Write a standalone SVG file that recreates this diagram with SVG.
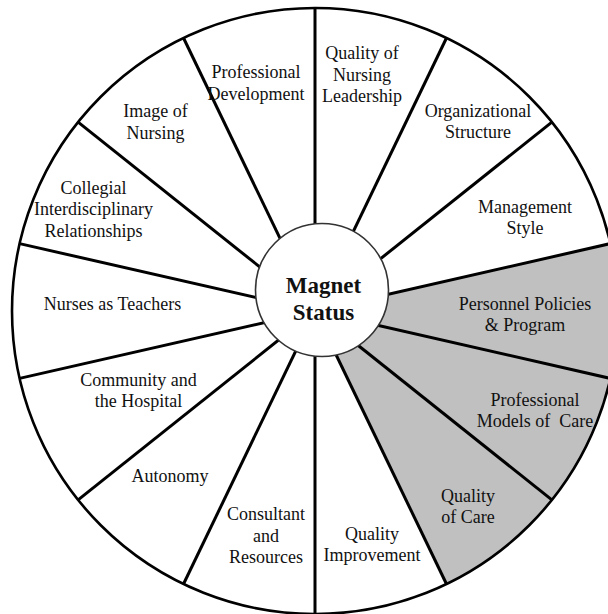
<svg xmlns="http://www.w3.org/2000/svg" width="608" height="614" viewBox="0 0 608 614">
<style>
.lbl{font-family:"Liberation Serif","Times New Roman",serif;font-size:18px;fill:#111;text-anchor:middle;white-space:pre}
.ctr{font-family:"Liberation Serif","Times New Roman",serif;font-size:23px;font-weight:bold;fill:#111;text-anchor:middle}
.spoke{stroke:#000;stroke-width:3;fill:none}
</style>
<rect width="608" height="614" fill="#fff"/>
<g id="wheel">
<circle cx="315" cy="311" r="303" fill="#fff"/>
<path d="M315,311 L610.4,243.6 A303,303 0 0 1 446.47,584 Z" fill="#c0c0c0"/>
</g>
<g id="connectors">
<line class="spoke" x1="315" y1="311" x2="315" y2="8"/>
<line class="spoke" x1="315" y1="311" x2="446.47" y2="38"/>
<line class="spoke" x1="315" y1="311" x2="551.9" y2="122.1"/>
<line class="spoke" x1="315" y1="311" x2="610.4" y2="243.6"/>
<line class="spoke" x1="315" y1="311" x2="610.4" y2="378.4"/>
<line class="spoke" x1="315" y1="311" x2="551.9" y2="499.9"/>
<line class="spoke" x1="315" y1="311" x2="446.47" y2="584"/>
<line class="spoke" x1="315" y1="311" x2="315" y2="614"/>
<line class="spoke" x1="315" y1="311" x2="183.53" y2="584"/>
<line class="spoke" x1="315" y1="311" x2="78.1" y2="499.9"/>
<line class="spoke" x1="315" y1="311" x2="19.6" y2="378.4"/>
<line class="spoke" x1="315" y1="311" x2="19.6" y2="243.6"/>
<line class="spoke" x1="315" y1="311" x2="78.1" y2="122.1"/>
<line class="spoke" x1="315" y1="311" x2="183.53" y2="38"/>
</g>
<circle cx="315" cy="311" r="303" fill="none" stroke="#000" stroke-width="2.6"/>
<g id="magnet-status">
<circle cx="322" cy="290" r="66.5" fill="#fff" stroke="#333" stroke-width="1.6"/>
<text class="ctr" x="323.5" y="293">Magnet</text>
<text class="ctr" x="323.5" y="320">Status</text>
</g>
<g id="professional-development">
<text class="lbl" x="256" y="78">Professional</text>
<text class="lbl" x="256" y="99.5">Development</text>
</g>
<g id="quality-of-nursing-leadership">
<text class="lbl" x="362" y="59">Quality of</text>
<text class="lbl" x="362" y="80.5">Nursing</text>
<text class="lbl" x="362" y="102">Leadership</text>
</g>
<g id="organizational-structure">
<text class="lbl" x="478" y="116.5">Organizational</text>
<text class="lbl" x="478" y="138">Structure</text>
</g>
<g id="management-style">
<text class="lbl" x="525" y="212.5">Management</text>
<text class="lbl" x="525" y="234">Style</text>
</g>
<g id="personnel-policies">
<text class="lbl" x="525" y="309.5">Personnel Policies</text>
<text class="lbl" x="525" y="330.5">&amp; Program</text>
</g>
<g id="professional-models-of-care">
<text class="lbl" x="535" y="406">Professional</text>
<text class="lbl" x="535" y="427">Models of  Care</text>
</g>
<g id="quality-of-care">
<text class="lbl" x="468" y="502">Quality</text>
<text class="lbl" x="468" y="523">of Care</text>
</g>
<g id="quality-improvement">
<text class="lbl" x="372" y="540">Quality</text>
<text class="lbl" x="372" y="561">Improvement</text>
</g>
<g id="consultant-and-resources">
<text class="lbl" x="266" y="520">Consultant</text>
<text class="lbl" x="266" y="541.5">and</text>
<text class="lbl" x="266" y="563">Resources</text>
</g>
<g id="autonomy">
<text class="lbl" x="170" y="481.5">Autonomy</text>
</g>
<g id="community-and-the-hospital">
<text class="lbl" x="138.5" y="385.5">Community and</text>
<text class="lbl" x="138.5" y="407">the Hospital</text>
</g>
<g id="nurses-as-teachers">
<text class="lbl" x="112.5" y="310">Nurses as Teachers</text>
</g>
<g id="collegial-interdisciplinary-relationships">
<text class="lbl" x="93.5" y="193.5">Collegial</text>
<text class="lbl" x="93.5" y="215">Interdisciplinary</text>
<text class="lbl" x="93.5" y="236.5">Relationships</text>
</g>
<g id="image-of-nursing">
<text class="lbl" x="155.5" y="117">Image of</text>
<text class="lbl" x="155.5" y="138.5">Nursing</text>
</g>
</svg>
